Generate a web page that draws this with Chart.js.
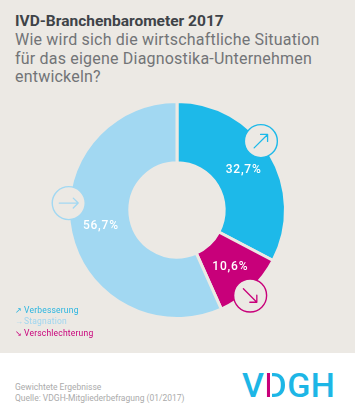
<!DOCTYPE html>
<html lang="de">
<head>
<meta charset="utf-8">
<script src="https://cdn.jsdelivr.net/npm/chart.js@4/dist/chart.umd.min.js"></script>
<style>
  html, body { margin: 0; padding: 0; }
  body { width: 355px; height: 414px; background: #ffffff; position: relative; overflow: hidden; font-family: Roboto, "Noto Sans", sans-serif; }
  #panel { position: absolute; left: 0; top: 0; width: 355px; height: 353px; background: #ece9e4; }
  #title { position: absolute; left: 15px; top: 11px; font-weight: 700; font-size: 15.5px; line-height: 20px; color: #3e4348; margin: 0; }
  #subtitle { position: absolute; left: 15px; top: 31px; font-weight: 400; font-size: 16px; line-height: 18.5px; color: #727477; margin: 0; white-space: nowrap; letter-spacing: 0.2px; }
  #chartBox { position: absolute; left: 37px; top: 70px; width: 280px; height: 280px; }
  #legend { position: absolute; left: 15px; top: 305px; font-size: 8.5px; line-height: 10.3px; letter-spacing: 0.2px; }
  #legend .row { white-space: nowrap; }
  #legend .ico { display: inline-block; width: 9px; font-size: 8px; }
  #footer { position: absolute; left: 15px; top: 382px; font-size: 8.5px; line-height: 10.5px; color: #ababab; }
  #logo { position: absolute; left: 242px; top: 365px; font-weight: 500; font-size: 34px; line-height: 40px; color: #1db6e6; letter-spacing: 0.5px; }
  #logo .d { background: linear-gradient(to right, #c8007a 0, #c8007a 26%, transparent 26%, transparent 33%, #1db6e6 33%); -webkit-background-clip: text; background-clip: text; color: transparent; }
</style>
</head>
<body>
<div id="panel"></div>
<h1 id="title">IVD-Branchenbarometer 2017</h1>
<p id="subtitle">Wie wird sich die wirtschaftliche Situation<br>für das eigene Diagnostika-Unternehmen<br>entwickeln?</p>
<div id="chartBox"><canvas id="c" width="280" height="280"></canvas></div>
<div id="legend"></div>
<div id="footer">Gewichtete Ergebnisse<br>Quelle: VDGH-Mitgliederbefragung (01/2017)</div>
<div id="logo">V<span class="d">D</span>GH</div>
<script>
// ---- data ----
const categories = ['Verbesserung', 'Verschlechterung', 'Stagnation'];
const values = [32.7, 10.6, 56.7];
const legendOrder = ['Verbesserung', 'Stagnation', 'Verschlechterung'];

// ---- styles ----
const segmentColors = ['#1db9e9', '#c8007a', '#a2d8f2'];
const legendColors = { 'Verbesserung': '#2ab5e0', 'Stagnation': '#9fd6f0', 'Verschlechterung': '#c8007a' };
const legendIcons = { 'Verbesserung': '\u2197', 'Stagnation': '\u2192', 'Verschlechterung': '\u2198' };
const bg = '#ece9e4';

// legend
const legendEl = document.getElementById('legend');
legendOrder.forEach(name => {
  const row = document.createElement('div');
  row.className = 'row';
  row.style.color = legendColors[name];
  row.innerHTML = '<span class="ico">' + legendIcons[name] + '</span>' + name;
  legendEl.appendChild(row);
});

const fmt = v => v.toLocaleString('de-DE', { minimumFractionDigits: 1, maximumFractionDigits: 1 }) + '%';

// icon config per segment: fraction along the arc, radial offset, arrow angle (deg, screen)
const iconCfg = [
  { frac: 0.43, dr: 0, dir: -45 },
  { frac: 0.57, dr: 4, dir: 45 },
  { frac: 0.577, dr: 0, dir: 0 }
];

const overlay = {
  id: 'overlay',
  afterDatasetsDraw(chart) {
    const ctx = chart.ctx;
    const meta = chart.getDatasetMeta(0);
    meta.data.forEach((arc, i) => {
      const p = arc.getProps(['x', 'y', 'startAngle', 'endAngle', 'innerRadius', 'outerRadius'], true);
      // value label
      const mid = (p.startAngle + p.endAngle) / 2;
      const rm = (p.innerRadius + p.outerRadius) / 2;
      ctx.save();
      ctx.fillStyle = '#ffffff';
      ctx.font = '500 12px Roboto';
      if ('letterSpacing' in ctx) ctx.letterSpacing = '0.8px';
      ctx.textAlign = 'center';
      ctx.textBaseline = 'middle';
      ctx.fillText(fmt(values[i]), p.x + Math.cos(mid) * rm, p.y + Math.sin(mid) * rm);
      ctx.restore();
      // icon
      const cfg = iconCfg[i];
      const a = p.startAngle + cfg.frac * (p.endAngle - p.startAngle);
      const r = p.outerRadius + cfg.dr;
      const cx = p.x + Math.cos(a) * r, cy = p.y + Math.sin(a) * r;
      ctx.save();
      ctx.beginPath();
      ctx.arc(cx, cy, 16.5, 0, Math.PI * 2);
      ctx.fillStyle = bg;
      ctx.fill();
      ctx.lineWidth = 1.4;
      ctx.strokeStyle = segmentColors[i];
      ctx.stroke();
      const d = cfg.dir * Math.PI / 180;
      const L = 9.5;
      const ux = Math.cos(d), uy = Math.sin(d);
      const x0 = cx - ux * L, y0 = cy - uy * L, x1 = cx + ux * L, y1 = cy + uy * L;
      ctx.beginPath();
      ctx.moveTo(x0, y0); ctx.lineTo(x1, y1);
      const h = 7;
      [3 * Math.PI / 4, -3 * Math.PI / 4].forEach(o => {
        ctx.moveTo(x1, y1);
        ctx.lineTo(x1 + Math.cos(d + o) * h, y1 + Math.sin(d + o) * h);
      });
      ctx.lineWidth = 1.3;
      ctx.lineCap = 'round';
      ctx.stroke();
      ctx.restore();
    });
  }
};

new Chart(document.getElementById('c'), {
  type: 'doughnut',
  data: {
    labels: categories,
    datasets: [{
      data: values,
      backgroundColor: segmentColors,
      borderColor: bg,
      borderWidth: 3,
      hoverOffset: 0
    }]
  },
  options: {
    responsive: false,
    animation: false,
    cutout: '43.5%',
    layout: { padding: 30 },
    plugins: { legend: { display: false }, tooltip: { enabled: false } },
    events: []
  },
  plugins: [overlay]
});
</script>
</body>
</html>
